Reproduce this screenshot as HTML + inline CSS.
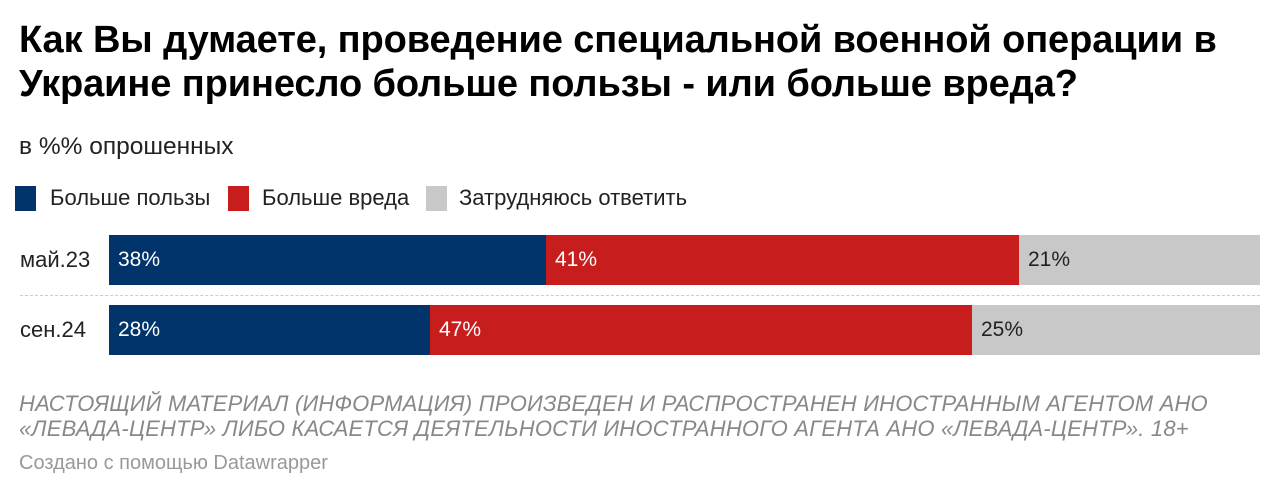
<!DOCTYPE html>
<html><head><meta charset="utf-8"><style>
body{margin:0;width:1280px;height:496px;background:#fff;font-family:"Liberation Sans",sans-serif;position:relative;overflow:hidden}
.a{position:absolute;white-space:nowrap}
.t{left:19px;font-size:38px;font-weight:bold;color:#000;letter-spacing:-0.1px}
.sq{position:absolute;width:21px;height:25px;top:186px}
.lg{top:185px;font-size:22px;color:#222}
.bar{position:absolute;height:50px}
.v{font-size:21px;color:#fff;line-height:50px;padding-left:9px}
.rl{font-size:22px;color:#222;left:20px}
.f{left:19px;font-size:22px;font-style:italic;color:#888;letter-spacing:0.2px}
</style></head><body>
<div class="a t" style="top:19px">Как Вы думаете, проведение специальной военной операции в</div>
<div class="a t" style="top:63px">Украине принесло больше пользы - или больше вреда?</div>
<div class="a" style="left:19px;top:133px;font-size:24.5px;color:#222">в %% опрошенных</div>
<div class="sq" style="left:15px;background:#01346b"></div><div class="a lg" style="left:50px">Больше пользы</div>
<div class="sq" style="left:228px;background:#c71e1d"></div><div class="a lg" style="left:262px">Больше вреда</div>
<div class="sq" style="left:426px;background:#c8c8c8"></div><div class="a lg" style="left:459px">Затрудняюсь ответить</div>
<div class="a rl" style="top:247px">май.23</div>
<div class="bar v" style="left:109px;top:235px;width:428px;background:#01346b">38%</div>
<div class="bar v" style="left:546px;top:235px;width:464px;background:#c71e1d">41%</div>
<div class="bar v" style="left:1019px;top:235px;width:232px;background:#c8c8c8;color:#222">21%</div>
<div class="a" style="left:20px;top:295px;width:1240px;border-top:1px dashed #ccc"></div>
<div class="a rl" style="top:317px">сен.24</div>
<div class="bar v" style="left:109px;top:305px;width:312px;background:#01346b">28%</div>
<div class="bar v" style="left:430px;top:305px;width:533px;background:#c71e1d">47%</div>
<div class="bar v" style="left:972px;top:305px;width:279px;background:#c8c8c8;color:#222">25%</div>
<div class="a f" style="top:391px">НАСТОЯЩИЙ МАТЕРИАЛ (ИНФОРМАЦИЯ) ПРОИЗВЕДЕН И РАСПРОСТРАНЕН ИНОСТРАННЫМ АГЕНТОМ АНО</div>
<div class="a f" style="top:416px">«ЛЕВАДА-ЦЕНТР» ЛИБО КАСАЕТСЯ ДЕЯТЕЛЬНОСТИ ИНОСТРАННОГО АГЕНТА АНО «ЛЕВАДА-ЦЕНТР». 18+</div>
<div class="a" style="left:19px;top:452px;font-size:20px;color:#999">Создано с помощью Datawrapper</div>
</body></html>
